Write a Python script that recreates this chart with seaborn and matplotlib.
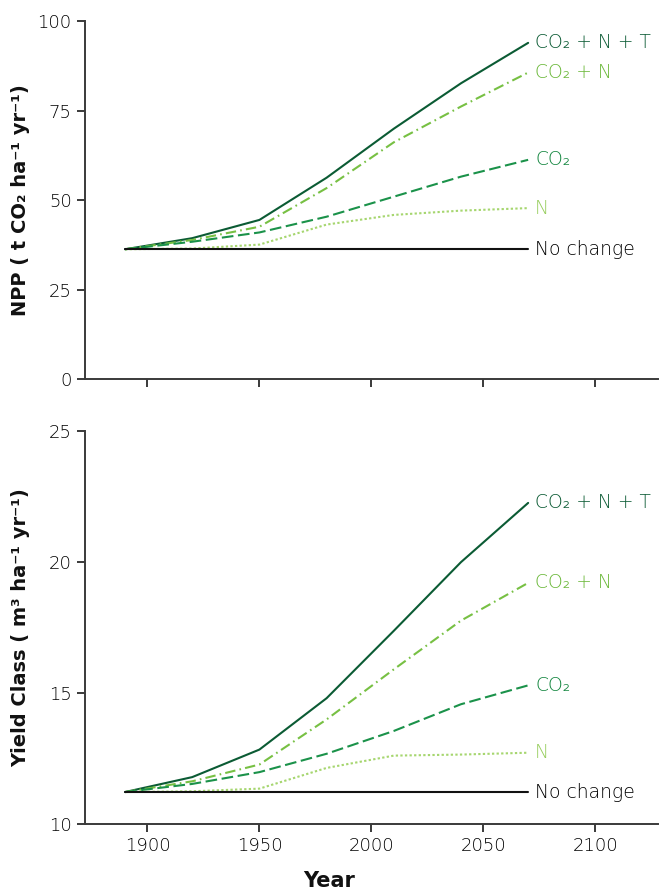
import numpy as np
import pandas as pd
import matplotlib
matplotlib.use("Agg")
import matplotlib.pyplot as plt
import seaborn as sns

# data
years = [1890, 1920, 1950, 1980, 2010, 2040, 2070]
series_names = ["CO\u2082 + N + T", "CO\u2082 + N", "CO\u2082", "N", "No change"]

npp_co2_n_t = [36.3, 39.4, 44.5, 56.3, 70.0, 82.7, 94.0]
npp_co2_n = [36.3, 38.9, 42.6, 53.4, 66.2, 76.2, 85.7]
npp_co2 = [36.3, 38.4, 41.0, 45.4, 51.0, 56.6, 61.3]
npp_n = [36.3, 36.5, 37.6, 43.2, 45.9, 47.1, 47.8]
npp_none = [36.3, 36.3, 36.3, 36.3, 36.3, 36.3, 36.3]

yc_co2_n_t = [11.22, 11.79, 12.84, 14.80, 17.37, 19.99, 22.25]
yc_co2_n = [11.22, 11.63, 12.27, 13.99, 15.90, 17.76, 19.20]
yc_co2 = [11.22, 11.53, 11.98, 12.68, 13.55, 14.57, 15.29]
yc_n = [11.22, 11.25, 11.35, 12.14, 12.61, 12.65, 12.72]
yc_none = [11.22, 11.22, 11.22, 11.22, 11.22, 11.22, 11.22]

colors = ["#0b5b34", "#6bb83a", "#13863f", "#96cd5c", "#000000"]
line_colors = ["#0b5b34", "#77c043", "#1b924a", "#a6d66f", "#111111"]
styles = ["-", (0, (5.0, 2.0, 0.8, 2.0)), (0, (5.6, 2.2)), (0, (1.1, 1.1)), "-"]

sns.set_theme(style="ticks")
plt.rcParams["font.family"] = ["DejaVu Sans"]
ink = "#3a3a3a"

fig = plt.figure(figsize=(6.62, 8.92), dpi=100)
ax1 = fig.add_axes([0.128, 0.575, 0.866, 0.401])
ax2 = fig.add_axes([0.128, 0.0762, 0.866, 0.4408])


def draw(ax, rows, ylim, yticks, ylabel):
    df = pd.DataFrame({"Year": years})
    for name, vals in zip(series_names, rows):
        df[name] = vals
    long = df.melt(id_vars="Year", var_name="series", value_name="value")
    for name, col, lcol, ls in zip(series_names, colors, line_colors, styles):
        sub = long[long["series"] == name]
        sns.lineplot(data=sub, x="Year", y="value", ax=ax, color=lcol,
                     linestyle=ls, linewidth=1.5, legend=False,
                     zorder=3 if name == "No change" else 2)
        ax.annotate(name, xy=(sub["Year"].iloc[-1], sub["value"].iloc[-1]),
                    xytext=(5, 0), textcoords="offset points", va="center",
                    ha="left", color=col, fontsize=13.5, fontweight="light",
                    annotation_clip=False)
    ax.set_xlim(1872, 2128)
    ax.set_ylim(*ylim)
    ax.set_yticks(yticks)
    ax.set_xticks([1900, 1950, 2000, 2050, 2100])
    sns.despine(ax=ax)
    for s in ["left", "bottom"]:
        ax.spines[s].set_color(ink)
        ax.spines[s].set_linewidth(1.4)
    ax.tick_params(colors=ink, width=1.4, length=6, labelsize=13,
                   labelcolor="#000000")
    for lab in ax.get_xticklabels() + ax.get_yticklabels():
        lab.set_fontweight("light")
    ax.set_xlabel("")
    ax.set_ylabel(ylabel, fontsize=14, fontweight="bold", color="#111111")
    ax.yaxis.set_label_coords(-0.095, 0.5)


draw(ax1, [npp_co2_n_t, npp_co2_n, npp_co2, npp_n, npp_none],
     (0, 100), [0, 25, 50, 75, 100],
     "NPP ( t CO\u2082 ha\u207b\u00b9 yr\u207b\u00b9)")
ax1.tick_params(labelbottom=False)

draw(ax2, [yc_co2_n_t, yc_co2_n, yc_co2, yc_n, yc_none],
     (10, 25), [10, 15, 20, 25],
     "Yield Class ( m\u00b3 ha\u207b\u00b9 yr\u207b\u00b9)")

fig.text(0.497, 0.012, "Year", ha="center", va="center", fontsize=15,
         fontweight="bold", color="#111111")

fig.savefig("out.png", dpi=100)
